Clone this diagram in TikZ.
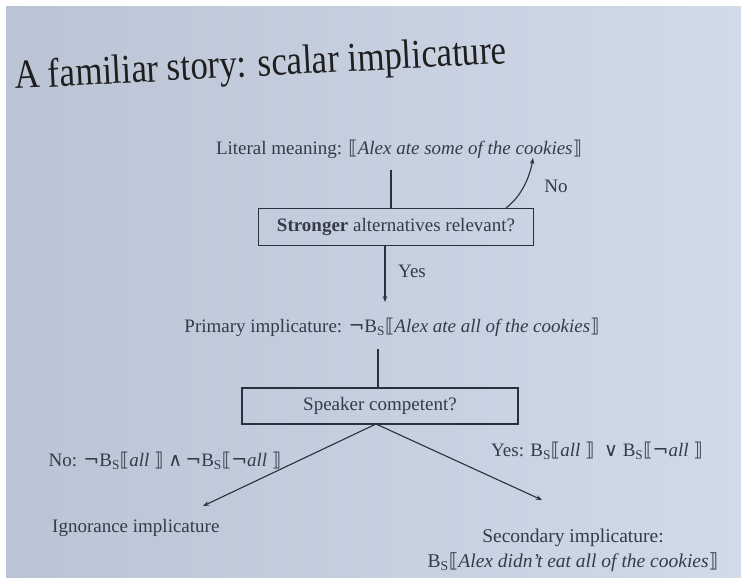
\documentclass[tikz,border=0pt]{standalone}
\usepackage{fontspec}
\setmainfont{Liberation Serif}
\newfontfamily\symf{DejaVu Sans}
\usetikzlibrary{arrows.meta}
\definecolor{ink}{HTML}{353B48}
\definecolor{lineink}{HTML}{2A303C}
\definecolor{slideA}{HTML}{BAC4D4}
\definecolor{slideB}{HTML}{D0DAE9}
\newcommand{\lb}{{\symf\char"27E6}}
\newcommand{\rb}{{\symf\char"27E7}}
\newcommand{\nego}{{\symf\char"00AC}}
\newcommand{\BS}{B\textsubscript{S}}
\tikzset{
  txt/.style={text=ink, font=\fontsize{19}{22}\selectfont, inner sep=0pt},
  qbox/.style={draw=lineink, line width=1.1pt, fill=none, text=ink, font=\fontsize{19}{22}\selectfont, minimum height=37pt, inner sep=0pt},
  conn/.style={draw=lineink, line width=1.1pt},
  arr/.style={conn, -{Stealth[length=6pt,width=4.5pt]}}
}
\begin{document}
\begin{tikzpicture}[x=1pt,y=-1pt]
\useasboundingbox (0,0) rectangle (741,580);
\fill[white] (0,0) rectangle (741,580);
\shade[left color=slideA, right color=slideB] (6,7) rectangle (741,577);
% title
\node[anchor=base west, rotate=3, text=black!88, font=\fontsize{41}{44}\selectfont, inner sep=0pt, xscale=0.85] (title) at (15,89) {A familiar story: scalar implicature};
% literal meaning
\node[txt] (lit) at (399,149) {Literal meaning: \lb\textit{Alex ate some of the cookies}\rb};
\node[qbox, minimum width=275pt] (q1) at (396,227) {\textbf{Stronger} alternatives relevant?};
\node[txt] (nolab) at (556,186) {No};
\node[txt] (yeslab) at (412,271) {Yes};
\node[txt] (prim) at (392,327) {Primary implicature: \nego\BS\lb\textit{Alex ate all of the cookies}\rb};
\node[qbox, minimum width=276pt, minimum height=36pt] (q2) at (380,406) {Speaker competent?};
\node[txt] (nobr) at (165,461) {No: \nego\BS\lb\textit{all} \rb\ {\symf\char"2227}\,\nego\BS\lb\nego\textit{all} \rb};
\node[txt] (yesbr) at (597,451) {Yes: \BS\lb\textit{all} \rb\ \ {\symf\char"2228}\ \BS\lb\nego\textit{all} \rb};
\node[txt, anchor=west] (ign) at (52,528) {Ignorance implicature};
\node[txt, align=center, font=\fontsize{19.5}{25}\selectfont] (sec) at (573,550) {Secondary implicature:\\ \BS\lb\textit{Alex didn't eat all of the cookies}\rb};
% connector ends
\coordinate (litfoot) at (391,170);
\coordinate (noend) at (533,158);
\coordinate (yesend) at (385,302);
\coordinate (primfoot) at (378,349);
\coordinate (apex) at (376,424);
\coordinate (leftend) at (203,506);
\coordinate (rightend) at (542,500);
% connectors
\draw[conn] (litfoot) -- (litfoot |- q1.north);
\draw[arr] ([xshift=110pt]q1.north) .. controls +(16,-12) and +(-3,18) .. (noend);
\draw[arr] (yesend |- q1.south) -- (yesend);
\draw[conn] (primfoot) -- (primfoot |- q2.north);
\draw[arr] (apex) -- (leftend);
\draw[arr] (apex) -- (rightend);
\end{tikzpicture}
\end{document}
